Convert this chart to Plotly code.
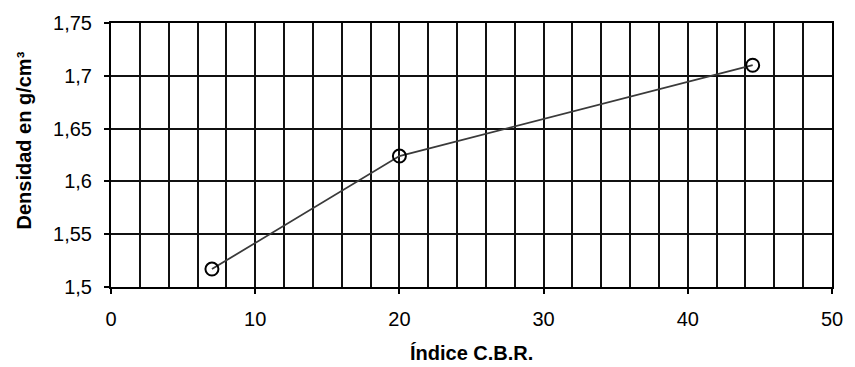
import plotly.graph_objects as go

# CBR index vs. dry density
cbr_index = [7.0, 20.0, 44.5]
density = [1.517, 1.624, 1.710]

x_range = [0, 50]
y_range = [1.5, 1.75]
x_ticks = [0, 10, 20, 30, 40, 50]
y_ticks = [1.5, 1.55, 1.6, 1.65, 1.7, 1.75]
y_tick_text = ["1,5", "1,55", "1,6", "1,65", "1,7", "1,75"]

FONT = "Liberation Sans, Arial, sans-serif"

fig = go.Figure()
fig.add_trace(go.Scatter(
    x=cbr_index, y=density,
    mode="lines+markers",
    line=dict(color="#3a3a3a", width=1.8),
    marker=dict(symbol="circle-open", size=13, color="black",
                line=dict(color="black", width=2)),
    cliponaxis=False,
    showlegend=False,
))

fig.update_layout(
    width=855, height=367,
    margin=dict(l=111, r=18, t=20, b=80),
    paper_bgcolor="white", plot_bgcolor="white",
    font=dict(family=FONT, size=20, color="black"),
    annotations=[
        dict(text="<b>Índice C.B.R.</b>", xref="paper", yref="paper",
             x=0.5, y=-0.25, xanchor="center", yanchor="middle",
             showarrow=False, font=dict(size=20)),
        dict(text="<b>Densidad en g/cm³</b>", xref="paper", yref="paper",
             x=-0.121, y=0.554, xanchor="center", yanchor="middle",
             textangle=-90, showarrow=False, font=dict(size=20)),
    ],
)

fig.update_xaxes(
    range=x_range, tickvals=x_ticks, ticktext=[str(v) for v in x_ticks],
    showgrid=True, gridcolor="#111", gridwidth=2,
    minor=dict(dtick=2, showgrid=True, gridcolor="#111", gridwidth=2),
    ticks="outside", ticklen=5, tickcolor="black", tickwidth=1.5,
    showline=True, linecolor="black", linewidth=2, mirror=True,
    zeroline=False, tickfont=dict(size=20), ticklabelstandoff=8,
)
fig.update_yaxes(
    range=y_range, tickvals=y_ticks, ticktext=y_tick_text,
    showgrid=True, gridcolor="#111", gridwidth=2,
    ticks="outside", ticklen=5, tickcolor="black", tickwidth=1.5,
    showline=True, linecolor="black", linewidth=2, mirror=True,
    zeroline=False, tickfont=dict(size=20), ticklabelstandoff=8,
)

fig.write_html("out.html")
